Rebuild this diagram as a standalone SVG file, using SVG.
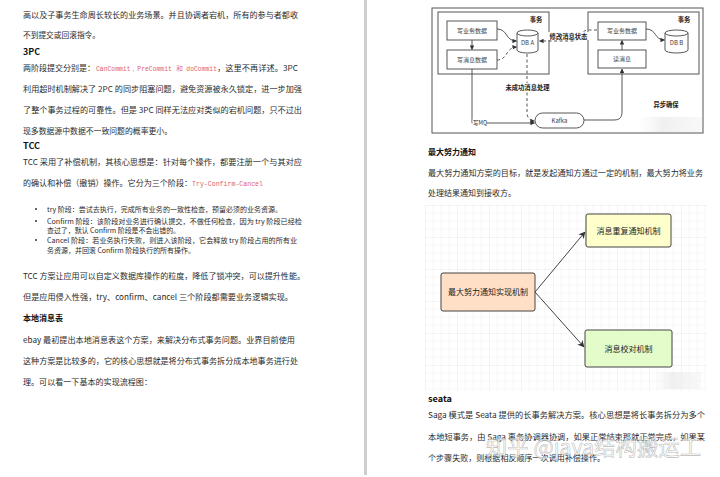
<svg xmlns="http://www.w3.org/2000/svg" width="720" height="477" viewBox="0 0 720 477">
<style>
text{font-family:"Noto Sans CJK SC","Liberation Sans",sans-serif;fill:#2a2a2a}
.t{font-size:8px}
.s{font-size:7px}
.h{font-size:8.5px;font-weight:bold;fill:#111}
.code{font-family:"Liberation Mono","DejaVu Sans Mono",monospace;font-size:6.5px;fill:#e0606a}
.bx{fill:#fff;stroke:#444;stroke-width:0.9}
.ob{fill:#fff;stroke:#555;stroke-width:1}
.dl{font-size:6px;fill:#444;text-anchor:middle}
.db{font-size:6.3px;font-weight:bold;fill:#222}
.ln{fill:none;stroke:#444;stroke-width:0.9}
.dash{stroke-dasharray:3 2.5}
.n{stroke:#444;stroke-width:1;rx:2}
.nl{font-size:8px;fill:#222;text-anchor:middle}
.ar{fill:none;stroke:#444;stroke-width:1}
</style>
<defs>
<marker id="m1" viewBox="0 0 10 10" refX="9" refY="5" markerUnits="userSpaceOnUse" markerWidth="4.5" markerHeight="4.5" orient="auto"><path d="M0,0 L10,5 L0,10 z" fill="#333"/></marker>
<marker id="m2" viewBox="0 0 10 10" refX="9" refY="5" markerUnits="userSpaceOnUse" markerWidth="7" markerHeight="7" orient="auto"><path d="M0,0 L10,5 L0,10 L3,5 z" fill="#333"/></marker>
<pattern id="grid" x="425" y="205" width="32" height="32" patternUnits="userSpaceOnUse">
<path d="M8,0V32M16,0V32M24,0V32M0,8H32M0,16H32M0,24H32" fill="none" stroke="#f1f1f1" stroke-width="0.6"/>
<path d="M0,0V32M0,0H32" fill="none" stroke="#e3e3e3" stroke-width="0.8"/>
</pattern>
<linearGradient id="fog" x1="0" y1="0" x2="1" y2="0">
<stop offset="0" stop-color="#f4f4f4" stop-opacity="0"/>
<stop offset="0.4" stop-color="#ececec" stop-opacity="0.8"/>
<stop offset="1" stop-color="#f2f2f2" stop-opacity="0.5"/>
</linearGradient>
</defs>
<rect width="720" height="477" fill="#fff"/>
<rect x="364" y="0" width="3" height="475" fill="#cfcfcf"/>

<!-- left page -->
<text class="t" x="23" y="18" textLength="275" lengthAdjust="spacingAndGlyphs">高以及子事务生命周长较长的业务场景。并且协调者宕机，所有的参与者都收</text>
<text class="t" x="23" y="38" textLength="77" lengthAdjust="spacingAndGlyphs">不到提交或回滚指令。</text>
<text class="h" x="23" y="55" textLength="17" lengthAdjust="spacingAndGlyphs">3PC</text>
<text class="t" x="23" y="71" textLength="72" lengthAdjust="spacingAndGlyphs">两阶段提交分别是：</text>
<text class="code" x="96" y="70.5" textLength="121" lengthAdjust="spacingAndGlyphs">CanCommit，PreCommit 和 doCommit</text>
<text class="t" x="217" y="71" textLength="81" lengthAdjust="spacingAndGlyphs">，这里不再详述。3PC</text>
<text class="t" x="23" y="92" textLength="279" lengthAdjust="spacingAndGlyphs">利用超时机制解决了 2PC 的同步阻塞问题，避免资源被永久锁定，进一步加强</text>
<text class="t" x="23" y="113" textLength="279" lengthAdjust="spacingAndGlyphs">了整个事务过程的可靠性。但是 3PC 同样无法应对类似的宕机问题，只不过出</text>
<text class="t" x="23" y="134" textLength="149" lengthAdjust="spacingAndGlyphs">现多数据源中数据不一致问题的概率更小。</text>
<text class="h" x="23" y="149" textLength="17" lengthAdjust="spacingAndGlyphs">TCC</text>
<text class="t" x="23" y="165" textLength="279" lengthAdjust="spacingAndGlyphs">TCC 采用了补偿机制，其核心思想是：针对每个操作，都要注册一个与其对应</text>
<text class="t" x="23" y="186" textLength="169" lengthAdjust="spacingAndGlyphs">的确认和补偿（撤销）操作。它分为三个阶段：</text>
<text class="code" x="192" y="185.5" textLength="71" lengthAdjust="spacingAndGlyphs">Try-Confirm-Cancel</text>
<circle cx="36" cy="209" r="1" fill="#333"/>
<circle cx="36" cy="221" r="1" fill="#333"/>
<circle cx="36" cy="240" r="1" fill="#333"/>
<text class="s" x="47" y="211.5" textLength="235" lengthAdjust="spacingAndGlyphs">try 阶段：尝试去执行，完成所有业务的一致性检查，预留必须的业务资源。</text>
<text class="s" x="47" y="223.5" textLength="255" lengthAdjust="spacingAndGlyphs">Confirm 阶段：该阶段对业务进行确认提交，不做任何检查，因为 try 阶段已经检</text>
<text class="s" x="47" y="232.5" textLength="133" lengthAdjust="spacingAndGlyphs">查过了，默认 Confirm 阶段是不会出错的。</text>
<text class="s" x="47" y="242.5" textLength="250" lengthAdjust="spacingAndGlyphs">Cancel 阶段：若业务执行失败，则进入该阶段，它会释放 try 阶段占用的所有业</text>
<text class="s" x="47" y="252.5" textLength="148" lengthAdjust="spacingAndGlyphs">务资源，并回滚 Confirm 阶段执行的所有操作。</text>
<text class="t" x="23" y="279" textLength="282" lengthAdjust="spacingAndGlyphs">TCC 方案让应用可以自定义数据库操作的粒度，降低了锁冲突，可以提升性能。</text>
<text class="t" x="23" y="300" textLength="270" lengthAdjust="spacingAndGlyphs">但是应用侵入性强，try、confirm、cancel 三个阶段都需要业务逻辑实现。</text>
<text class="h" x="23" y="321" textLength="40" lengthAdjust="spacingAndGlyphs">本地消息表</text>
<text class="t" x="23" y="343" textLength="272" lengthAdjust="spacingAndGlyphs">ebay 最初提出本地消息表这个方案，来解决分布式事务问题。业界目前使用</text>
<text class="t" x="23" y="364" textLength="275" lengthAdjust="spacingAndGlyphs">这种方案是比较多的，它的核心思想就是将分布式事务拆分成本地事务进行处</text>
<text class="t" x="23" y="385" textLength="129" lengthAdjust="spacingAndGlyphs">理。可以看一下基本的实现流程图：</text>

<!-- diagram 1 -->
<g id="d1-frame">
<rect class="ob" x="432" y="8" width="271" height="125"/>
<rect class="ob" x="438" y="12" width="111" height="62" stroke-width="1.1"/>
<rect class="ob" x="588" y="12" width="111" height="62" stroke-width="1.1"/>
<text class="db" x="536" y="22" text-anchor="middle">事务</text>
<text class="db" x="684" y="22" text-anchor="middle">事务</text>
<text class="db" x="666" y="107" text-anchor="middle" font-size="6.5">异步确保</text>
</g>
<g id="n-write-biz-a"><rect class="bx" x="447" y="21" width="50" height="19"/><text class="dl" x="472" y="32.5">写业务数据</text></g>
<g id="n-write-msg-a"><rect class="bx" x="447" y="50" width="50" height="19"/><text class="dl" x="472" y="61.5">写消息数据</text></g>
<g id="n-write-biz-b"><rect class="bx" x="598" y="22" width="48" height="18"/><text class="dl" x="622" y="33">写业务数据</text></g>
<g id="n-read-msg"><rect class="bx" x="598" y="50" width="48" height="18"/><text class="dl" x="622" y="61">读消息</text></g>
<g id="n-dba">
<path class="bx" d="M517,33 A10.5,3 0 0,1 538,33 V50 A10.5,3 0 0,1 517,50 Z"/>
<path class="bx" d="M517,33 A10.5,3 0 0,0 538,33" fill="none"/>
<text class="dl" x="527.5" y="45">DB A</text>
</g>
<g id="n-dbb">
<path class="bx" d="M665,33 A11.5,3 0 0,1 688,33 V50 A11.5,3 0 0,1 665,50 Z"/>
<path class="bx" d="M665,33 A11.5,3 0 0,0 688,33" fill="none"/>
<text class="dl" x="676.5" y="45">DB B</text>
</g>
<g id="n-kafka"><rect class="bx" x="535" y="113" width="49" height="15" rx="7.5"/><text class="dl" x="559.5" y="123">Kafka</text></g>

<g id="connectors">
<path class="ln" d="M472,40 V49.5" marker-end="url(#m1)"/>
<path class="ln" d="M497,29 C508,29 505,41 516.5,41" marker-end="url(#m1)"/>
<path class="ln dash" d="M497,60 C508,60 505,48 516.5,47" marker-end="url(#m1)"/>
<path class="ln dash" d="M597,30 H588 C581,30 579,41 572,41 H539.5" marker-end="url(#m1)"/>
<path class="ln dash" d="M527,54 V112 C527,118 530,121 534.5,121" marker-end="url(#m1)"/>
<path class="ln" d="M472,69 V123 H534.5" marker-end="url(#m1)"/>
<path class="ln" d="M584,120 H614 C620,120 622,117 622,112 V69" marker-end="url(#m1)"/>
<path class="ln" d="M622,50 V40.5" marker-end="url(#m1)"/>
<path class="ln" d="M646,29 C657,29 654,40 664.5,40" marker-end="url(#m1)"/>
<rect x="547" y="32" width="43" height="8" fill="#fff"/>
<text class="db" x="568.5" y="38.5" text-anchor="middle" font-size="6.8">修改消息状态</text>
<rect x="502" y="83" width="51" height="8" fill="#fff"/>
<text class="db" x="527.5" y="89.5" text-anchor="middle" font-size="6.8">未成功消息处理</text>
<rect x="472.5" y="119.5" width="14" height="7" fill="#fff"/>
<text x="473" y="125" font-size="5.5" fill="#333">写MQ</text>
</g>
<rect x="637" y="117" width="65" height="15" fill="url(#fog)"/>

<!-- right page text -->
<text class="h" x="428" y="155" textLength="48" lengthAdjust="spacingAndGlyphs">最大努力通知</text>
<text class="t" x="428" y="176" textLength="275" lengthAdjust="spacingAndGlyphs">最大努力通知方案的目标，就是发起通知方通过一定的机制，最大努力将业务</text>
<text class="t" x="428" y="196" textLength="88" lengthAdjust="spacingAndGlyphs">处理结果通知到接收方。</text>

<!-- diagram 2 -->
<rect x="425" y="205" width="282" height="186" fill="url(#grid)"/>
<rect x="653" y="372" width="48" height="17" fill="url(#fog)"/>
<g id="connectors2">
<line class="ar" x1="535" y1="292" x2="585" y2="232" marker-end="url(#m2)"/>
<line class="ar" x1="535" y1="292" x2="584" y2="347" marker-end="url(#m2)"/>
</g>
<g id="n-main"><rect class="n" x="441" y="273" width="94" height="38" fill="#ffdfc6"/><text class="nl" x="488" y="295">最大努力通知实现机制</text></g>
<g id="n-repeat"><rect class="n" x="586" y="214" width="85" height="33" fill="#ffffcc"/><text class="nl" x="628.5" y="233.5">消息重复通知机制</text></g>
<g id="n-check"><rect class="n" x="585" y="330" width="87" height="37" fill="#e4fcca"/><text class="nl" x="628.5" y="351.5">消息校对机制</text></g>

<text class="h" x="428" y="402" textLength="24" lengthAdjust="spacingAndGlyphs">seata</text>
<text class="t" x="428" y="418" textLength="277" lengthAdjust="spacingAndGlyphs">Saga 模式是 Seata 提供的长事务解决方案。核心思想是将长事务拆分为多个</text>
<text class="t" x="428" y="440" textLength="277" lengthAdjust="spacingAndGlyphs">本地短事务，由 Saga 事务协调器协调，如果正常结束那就正常完成，如果某</text>
<text class="t" x="428" y="461" textLength="177" lengthAdjust="spacingAndGlyphs">个步骤失败，则根据相反顺序一次调用补偿操作。</text>
<text x="486" y="455" font-size="22" textLength="215" lengthAdjust="spacingAndGlyphs" style="fill:#fff;fill-opacity:0.75;stroke:#9a9a9a;stroke-opacity:0.7;stroke-width:0.6">知乎 @java结构搬运工</text>
</svg>
